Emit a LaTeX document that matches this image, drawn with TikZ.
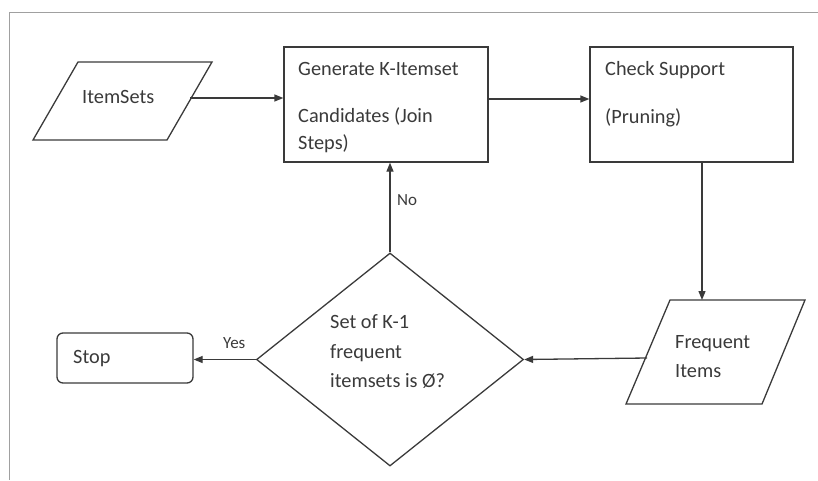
\documentclass[tikz,border=0pt]{standalone}
\usepackage{fontspec}
\setmainfont{Carlito}
\usetikzlibrary{arrows.meta,shapes.geometric}
\definecolor{ink}{HTML}{3A3A3A}
\definecolor{frame}{HTML}{A0A0A0}
\begin{document}
\begin{tikzpicture}[x=1pt,y=-1pt,
  shape line/.style={draw=ink, line width=1.3pt},
  flow/.style={draw=ink, line width=1.3pt, -{Triangle[length=9pt,width=7pt]}},
  txt/.style={anchor=base west, inner sep=0pt, text=ink, font=\fontsize{20.3}{24}\selectfont},
  small/.style={anchor=base west, inner sep=0pt, text=ink, font=\fontsize{17}{20}\selectfont}]
\useasboundingbox (0,0) rectangle (818,480);
% outer frame
\draw[frame, line width=1pt] (9.5,480) -- (9.5,12.5) -- (818,12.5);

% input data
\draw[shape line] (78,62) -- (212,62) -- (167,140) -- (33,140) -- cycle;
\coordinate (inR) at (190,98);
\node[txt] (tin) at (82,103) {ItemSets};

% candidate generation
\node[shape line, rectangle, inner sep=0pt, minimum width=204pt, minimum height=115pt] (gen) at (386,104.5) {};
\node[txt] (g1) at (298,75) {Generate K-Itemset};
\node[txt] (g2) at (298,122) {Candidates (Join};
\node[txt] (g3) at (298,149) {Steps)};

% support check
\node[shape line, rectangle, inner sep=0pt, minimum width=203pt, minimum height=115pt] (chk) at (691.5,104.5) {};
\node[txt] (c1) at (605,75) {Check Support};
\node[txt] (c2) at (605,123) {(Pruning)};

% frequent items
\draw[shape line] (670,300) -- (805,300) -- (762,404) -- (626,404) -- cycle;
\coordinate (frL) at (647,358);
\coordinate (frT) at (702,300);
\node[txt] (f1) at (675,348) {Frequent};
\node[txt] (f2) at (675,377) {Items};

% decision
\node[shape line, diamond, inner sep=0pt, minimum width=267pt, minimum height=213pt] (dec) at (390,359.5) {};
\node[txt] (d1) at (330,328) {Set of K-1};
\node[txt] (d2) at (330,358) {frequent};
\node[txt] (d3) at (330,387) {itemsets is Ø?};

% terminator
\node[shape line, rectangle, rounded corners=6pt, inner sep=0pt, minimum width=136pt, minimum height=50pt] (stop) at (125,358) {};
\node[txt] (ts) at (73,363) {Stop};

% connectors
\draw[flow] (inR) -- (gen.west |- inR);
\draw[flow] (gen.east |- 0,99) -- (chk.west |- 0,99);
\draw[flow] (chk.south -| frT) -- (frT);
\draw[flow] (frL) -- (dec.east);
\draw[flow] (dec.north) -- (gen.south -| dec.north);
\draw[flow] (dec.west) -- (stop.east |- dec.west);
\node[small] (no) at (397,205) {No};
\node[small] (yes) at (223,348) {Yes};
\end{tikzpicture}
\end{document}
